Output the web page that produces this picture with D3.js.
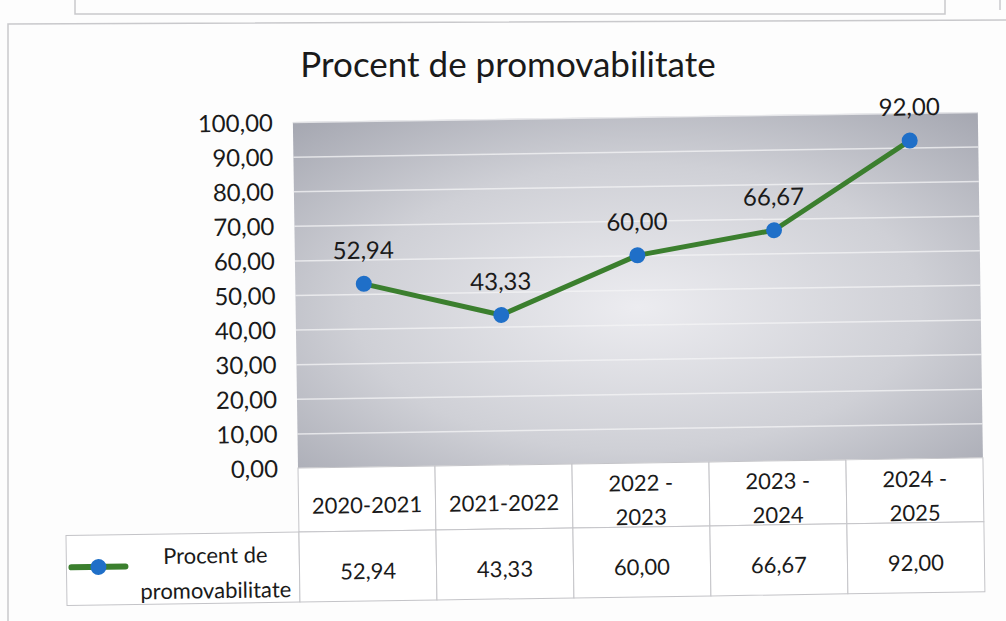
<!DOCTYPE html>
<html>
<head>
<meta charset="utf-8">
<script src="https://cdn.jsdelivr.net/npm/d3@7"></script>
<style>
  body { margin: 0; background: #fdfdfd; }
  svg text { font-family: Lato, "Open Sans", sans-serif; fill: #1a1a1a; }
</style>
</head>
<body>
<svg id="chart" width="1006" height="621"></svg>
<script>
// data
var categories = ["2020-2021", "2021-2022", "2022 - 2023", "2023 - 2024", "2024 - 2025"];
var values = [52.94, 43.33, 60.00, 66.67, 92.00];
var yTicks = [0, 10, 20, 30, 40, 50, 60, 70, 80, 90, 100];
var seriesName = "Procent de promovabilitate";
var title = "Procent de promovabilitate";

var ro = d3.formatLocale({ decimal: ",", thousands: ".", grouping: [3], currency: ["", ""] });
var fmt = ro.format(".2f");

var svg = d3.select("#chart");

// bits of the scanned page around the chart
var frame = svg.append("g").attr("stroke", "#c9c9cc").attr("fill", "none").attr("stroke-width", 1.5);
frame.append("path").attr("d", "M75,0 V14 H945 V0");
frame.append("path").attr("d", "M1000,0 V10");
frame.append("path").attr("d", "M8,621 V24 L1006,20");

var margin = { left: 298, right: 23, top: 122, bottom: 153 };
var width = 1006 - margin.left - margin.right,
    height = 621 - margin.top - margin.bottom;

var x = d3.scaleBand().domain(categories).range([0, width]);
var y = d3.scaleLinear().domain([0, 100]).range([height, 0]);

svg.append("text")
    .attr("x", 508).attr("y", 77)
    .attr("text-anchor", "middle")
    .style("font-size", "35px")
    .text(title);

// the scan is a little tilted
var g = svg.append("g")
    .attr("transform", "translate(" + margin.left + "," + margin.top + ") rotate(-0.85, 0, " + height + ")");

var defs = svg.append("defs");
var grad = defs.append("radialGradient").attr("id", "bg")
    .attr("cx", "50%").attr("cy", "55%").attr("r", "75%");
grad.append("stop").attr("offset", "0%").attr("stop-color", "#ececf0");
grad.append("stop").attr("offset", "55%").attr("stop-color", "#cfd0d6");
grad.append("stop").attr("offset", "100%").attr("stop-color", "#a4a6b0");

g.append("rect")
    .attr("width", width).attr("height", height)
    .attr("fill", "url(#bg)");

// gridlines
g.append("g")
    .call(d3.axisLeft(y).tickValues(yTicks).tickSize(-width).tickFormat(""))
    .call(a => a.select(".domain").remove())
    .call(a => a.selectAll("line").attr("stroke", "#f4f4f6").attr("stroke-width", 1.5).attr("opacity", 0.75));

// y axis labels
g.append("g")
    .attr("transform", "translate(-17,0)")
    .call(d3.axisLeft(y).tickValues(yTicks).tickSize(0).tickFormat(fmt))
    .call(a => a.select(".domain").remove())
    .call(a => a.selectAll("text").style("font-size", "24px").attr("dy", "0.35em"));

var cx = d => x(d) + x.bandwidth() / 2;

var line = d3.line()
    .x((d, i) => cx(categories[i]))
    .y(d => y(d));

g.append("path")
    .datum(values)
    .attr("d", line)
    .attr("fill", "none")
    .attr("stroke", "#3b7f2e")
    .attr("stroke-width", 5)
    .attr("stroke-linejoin", "round");

g.selectAll(".dot")
    .data(values)
    .enter().append("circle")
    .attr("class", "dot")
    .attr("cx", (d, i) => cx(categories[i]))
    .attr("cy", d => y(d))
    .attr("r", 8)
    .attr("fill", "#1f6fc8");

g.selectAll(".lbl")
    .data(values)
    .enter().append("text")
    .attr("class", "lbl")
    .attr("x", (d, i) => cx(categories[i]))
    .attr("y", d => y(d) - 25)
    .attr("text-anchor", "middle")
    .style("font-size", "24px")
    .text(d => fmt(d));

// data table under the plot
var rowH1 = 64, rowH2 = 70;
var tbl = g.append("g").attr("transform", "translate(0," + height + ")");
var border = "#c4c4c8";

tbl.selectAll(".hcell")
    .data(categories)
    .enter().append("rect")
    .attr("x", d => x(d)).attr("y", 0)
    .attr("width", x.bandwidth()).attr("height", rowH1)
    .attr("fill", "#ffffff").attr("stroke", border);

tbl.append("rect")
    .attr("x", -233).attr("y", rowH1)
    .attr("width", 233).attr("height", rowH2)
    .attr("fill", "#ffffff").attr("stroke", border);

tbl.selectAll(".vcell")
    .data(categories)
    .enter().append("rect")
    .attr("x", d => x(d)).attr("y", rowH1)
    .attr("width", x.bandwidth()).attr("height", rowH2)
    .attr("fill", "#ffffff").attr("stroke", border);

tbl.selectAll(".htext")
    .data(categories)
    .enter().append("text")
    .attr("text-anchor", "middle")
    .attr("x", d => cx(d))
    .style("font-size", "22px")
    .each(function (d) {
        var parts = d.split(" - ");
        var t = d3.select(this);
        if (parts.length == 1) {
            t.append("tspan").attr("x", cx(d)).attr("y", 46).text(d);
        } else {
            t.append("tspan").attr("x", cx(d)).attr("y", 28).text(parts[0] + " -");
            t.append("tspan").attr("x", cx(d)).attr("y", 62).text(parts[1]);
        }
    });

tbl.selectAll(".vtext")
    .data(values)
    .enter().append("text")
    .attr("text-anchor", "middle")
    .attr("x", (d, i) => cx(categories[i]))
    .attr("y", rowH1 + 48)
    .style("font-size", "22px")
    .text(d => fmt(d));

// legend key in the table
var key = tbl.append("g").attr("transform", "translate(-201," + (rowH1 + 32) + ")");
key.append("line").attr("x1", -27).attr("x2", 27)
    .attr("stroke", "#3b7f2e").attr("stroke-width", 6).attr("stroke-linecap", "round");
key.append("circle").attr("r", 8).attr("fill", "#1f6fc8");

var nameParts = ["Procent de", "promovabilitate"];
tbl.append("text")
    .attr("text-anchor", "middle")
    .style("font-size", "22px")
    .selectAll("tspan")
    .data(nameParts)
    .enter().append("tspan")
    .attr("x", -84)
    .attr("y", (d, i) => rowH1 + 30 + i * 35)
    .text(d => d);
</script>
</body>
</html>
